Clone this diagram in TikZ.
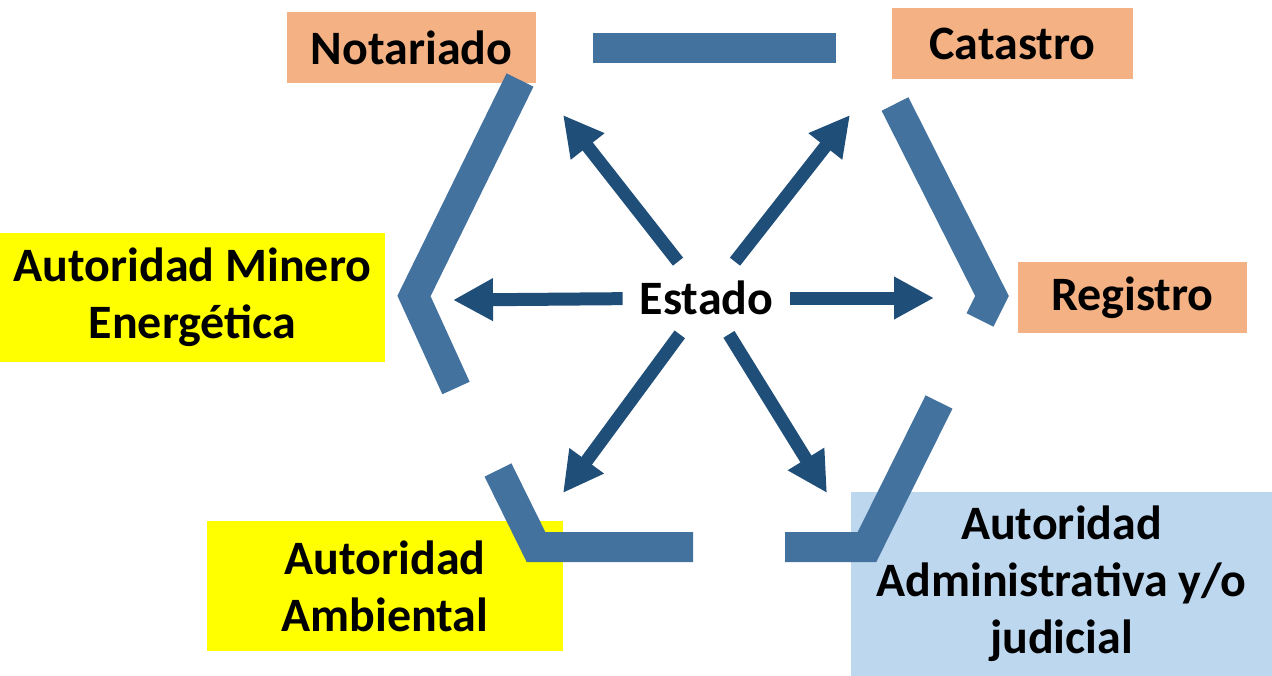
\documentclass[tikz,border=0pt]{standalone}
\usepackage{fontspec}
\setmainfont{Carlito}
\usetikzlibrary{arrows.meta}
\definecolor{peach}{HTML}{F4B183}
\definecolor{paleblue}{HTML}{BDD7EE}
\definecolor{barblue}{HTML}{43729E}
\definecolor{arrowblue}{HTML}{1F4E79}
\definecolor{brightyellow}{HTML}{FFFF00}
\begin{document}
\begin{tikzpicture}
  [x=0.02cm,y=-0.02cm,
   every node/.style={font=\fontsize{27.3}{32.5}\selectfont\bfseries,inner sep=0pt,align=center},
   office/.style={fill=peach,minimum height=1.42cm},
   authority/.style={fill=brightyellow},
   wall/.style={draw=barblue,line width=0.6cm,line join=miter},
   ray/.style={draw=arrowblue,line width=0.26cm,-{Triangle[length=0.8cm,width=0.8cm]}}]
  \useasboundingbox (0,0) rectangle (1272,676);
  % boxes
  \node[office,minimum width=4.98cm] (notariado) at (411.5,47.5) {Notariado};
  \node[office,minimum width=4.82cm] (catastro) at (1012.5,43.5) {Catastro};
  \node[office,minimum width=4.58cm] (registro) at (1132.5,297.5) {Registro};
  \node[authority,minimum width=7.7cm,minimum height=2.58cm] (minero) at (192.5,297.5)
    {Autoridad Minero\\Energética};
  \node[authority,minimum width=7.12cm,minimum height=2.6cm] (ambiental) at (385,586)
    {Autoridad\\Ambiental};
  \node[fill=paleblue,minimum width=8.42cm,minimum height=3.68cm] (judicial) at (1061.5,584)
    {Autoridad\\Administrativa y/o\\judicial};
  % hexagon bars
  \draw[wall] (593,48) -- (836,48);
  \draw[wall] (520,80) -- (414,296) -- (456,388);
  \draw[wall] (895,104) -- (992,296) -- (980,320);
  \draw[wall] (498,470) -- (536,547) -- (693,547);
  \draw[wall] (785,547) -- (867,547) -- (939,402);
  % centre and rays
  \node[minimum width=3.34cm,minimum height=1.44cm] (estado) at (706.5,298) {Estado};
  \coordinate (tipnw) at (563,115);
  \coordinate (tipne) at (850,115);
  \coordinate (tipw) at (453,300);
  \coordinate (tipe) at (934,298);
  \coordinate (tipsw) at (563,493);
  \coordinate (tipse) at (827,493);
  \foreach \t in {tipnw,tipne,tipw,tipe,tipsw,tipse}
    \draw[ray] (estado) -- (\t);
\end{tikzpicture}
\end{document}
